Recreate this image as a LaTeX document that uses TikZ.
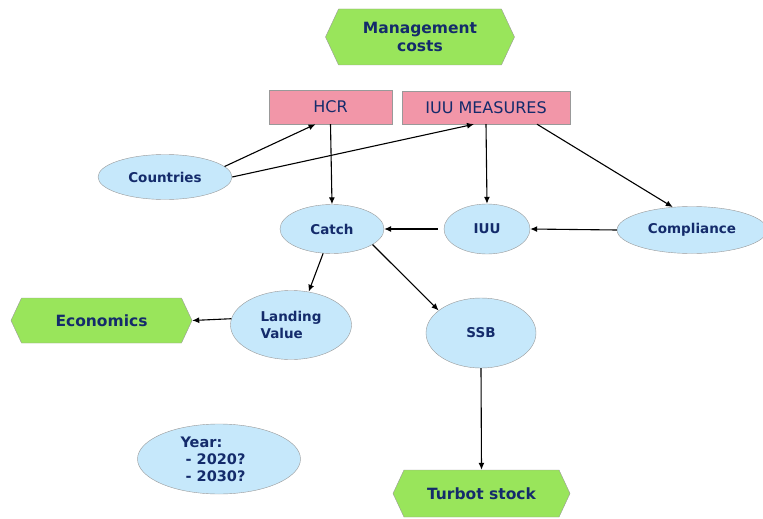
\documentclass[tikz,border=0pt]{standalone}
\usepackage{fontspec}
\setmainfont{DejaVu Sans}
\usetikzlibrary{shapes.geometric,shapes.symbols,arrows.meta}
\definecolor{navy}{HTML}{142B6B}
\definecolor{leaf}{HTML}{99E55B}
\definecolor{rose}{HTML}{F296A8}
\definecolor{sky}{HTML}{C6E8FB}
\begin{document}
\begin{tikzpicture}[x=1pt, y=-1pt,
  goal/.style={signal, signal to=west and east, signal pointer angle=130, draw=gray!80, fill=leaf,
    text=navy, font=\bfseries\fontsize{15.5}{18}\selectfont, align=center, inner sep=0pt},
  lever/.style={rectangle, draw=gray!80, fill=rose, text=navy, font=\fontsize{16}{18}\selectfont, inner sep=0pt},
  factor/.style={ellipse, draw=gray!80, fill=sky, text=navy, font=\bfseries\fontsize{13.5}{17}\selectfont, inner sep=0pt},
  link/.style={-{Latex[length=7pt,width=6pt]}, line width=1.1pt}]
  \useasboundingbox (0,0) rectangle (763,519);
  \node[goal, minimum width=189pt, minimum height=56pt] (mgmt) at (420,37) {Management\\costs};
  \node[lever, minimum width=123pt, minimum height=34pt] (hcr) at (330.5,107) {HCR};
  \node[lever, minimum width=168pt, minimum height=33pt] (iuum) at (486,107.5) {IUU MEASURES};
  \node[factor, minimum width=134pt, minimum height=45pt] (countries) at (165,177) {Countries};
  \node[factor, minimum width=104pt, minimum height=49pt] (catch) at (332,229) {Catch};
  \node[factor, minimum width=86pt, minimum height=50pt] (iuu) at (487,229) {IUU};
  \node[factor, minimum width=150pt, minimum height=47pt] (compl) at (692,230) {Compliance};
  \node[factor, minimum width=121pt, minimum height=69pt, align=left] (landing) at (291,325) {Landing\\Value};
  \node[factor, minimum width=110pt, minimum height=70pt] (ssb) at (481,333) {SSB};
  \node[goal, minimum width=181pt, minimum height=45pt] (econ) at (101.5,320.5) {Economics};
  \node[goal, minimum width=177pt, minimum height=47pt] (turbot) at (481.5,493.5) {Turbot stock};
  \node[factor, minimum width=163pt, minimum height=70pt, align=left, font=\bfseries\fontsize{14.5}{17}\selectfont] (year) at (219,459) {Year:\\\ - 2020?\\\ - 2030?\hspace*{12pt}};
  % arrows
  \draw[link] (countries.10) -- ([xshift=-15pt]hcr.south);
  \draw[link] (countries.east) -- ([xshift=-12pt]iuum.south);
  \draw[link] (hcr.south) -- (catch.north);
  \draw[link] (iuum.south) -- (iuu.north);
  \draw[link] ([xshift=51pt]iuum.south) -- (compl.130);
  \draw[link] ([xshift=-6pt]iuu.west) -- (catch.east);
  \draw[link] (compl.west) -- (iuu.east);
  \draw[link] (catch.250) -- (landing.62);
  \draw[link] (catch.-21) -- (ssb.152);
  \draw[link] (landing.174) -- (econ.east);
  \draw[link] (ssb.south) -- (turbot.north);
\end{tikzpicture}
\end{document}
